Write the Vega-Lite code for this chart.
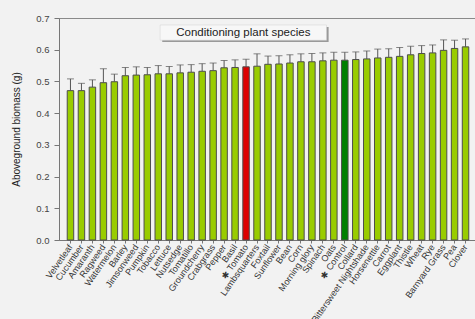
{
  "$schema": "https://vega.github.io/schema/vega-lite/v6.json",
  "autosize": "none",
  "width": 418,
  "height": 222,
  "padding": {"left": 59, "top": 18, "right": 0, "bottom": 79},
  "background": "#f2f2f2",
  "config": {
    "font": "Liberation Sans",
    "view": {"stroke": "#8a8a8a", "strokeWidth": 1, "fill": "#f2f2f2"},
    "axis": {"domainColor": "#777", "tickColor": "#777", "labelColor": "#333", "titleColor": "#222", "grid": false},
    "axisY": {"tickCount": 8, "labelFontSize": 9.5, "labelColor": "#444", "tickSize": 5, "labelPadding": 5, "titleFontSize": 10, "titleFontWeight": "normal", "titlePadding": 14}
  },
  "data": {"values": [
    {"species": "Velvetleaf", "biomass": 0.471, "upper": 0.508, "group": "other"},
    {"species": "Cucumber", "biomass": 0.471, "upper": 0.494, "group": "other"},
    {"species": "Amaranth", "biomass": 0.482, "upper": 0.505, "group": "other"},
    {"species": "Ragweed", "biomass": 0.496, "upper": 0.540, "group": "other"},
    {"species": "Watermelon", "biomass": 0.499, "upper": 0.523, "group": "other"},
    {"species": "Barley", "biomass": 0.518, "upper": 0.544, "group": "other"},
    {"species": "Jimsonweed", "biomass": 0.520, "upper": 0.546, "group": "other"},
    {"species": "Pumpkin", "biomass": 0.521, "upper": 0.544, "group": "other"},
    {"species": "Tobacco", "biomass": 0.524, "upper": 0.550, "group": "other"},
    {"species": "Lettuce", "biomass": 0.524, "upper": 0.547, "group": "other"},
    {"species": "Nutsedge", "biomass": 0.527, "upper": 0.552, "group": "other"},
    {"species": "Tomatillo", "biomass": 0.529, "upper": 0.553, "group": "other"},
    {"species": "Groundcherry", "biomass": 0.532, "upper": 0.556, "group": "other"},
    {"species": "Crabgrass", "biomass": 0.534, "upper": 0.558, "group": "other"},
    {"species": "Pepper", "biomass": 0.543, "upper": 0.566, "group": "other"},
    {"species": "Basil", "biomass": 0.544, "upper": 0.568, "group": "other"},
    {"species": "✱   Tomato", "biomass": 0.546, "upper": 0.570, "group": "tomato"},
    {"species": "Lambsquarters", "biomass": 0.548, "upper": 0.587, "group": "other"},
    {"species": "Foxtail", "biomass": 0.554, "upper": 0.580, "group": "other"},
    {"species": "Sunflower", "biomass": 0.555, "upper": 0.581, "group": "other"},
    {"species": "Bean", "biomass": 0.558, "upper": 0.584, "group": "other"},
    {"species": "Corn", "biomass": 0.562, "upper": 0.587, "group": "other"},
    {"species": "Morning glory", "biomass": 0.562, "upper": 0.588, "group": "other"},
    {"species": "Spinach", "biomass": 0.565, "upper": 0.590, "group": "other"},
    {"species": "Oats", "biomass": 0.567, "upper": 0.592, "group": "other"},
    {"species": "✱   Control", "biomass": 0.567, "upper": 0.592, "group": "control"},
    {"species": "Collard", "biomass": 0.569, "upper": 0.593, "group": "other"},
    {"species": "Bittersweet Nightshade", "biomass": 0.571, "upper": 0.596, "group": "other"},
    {"species": "Horsenettle", "biomass": 0.574, "upper": 0.602, "group": "other"},
    {"species": "Carrot", "biomass": 0.576, "upper": 0.603, "group": "other"},
    {"species": "Eggplant", "biomass": 0.579, "upper": 0.607, "group": "other"},
    {"species": "Thistle", "biomass": 0.584, "upper": 0.611, "group": "other"},
    {"species": "Wheat", "biomass": 0.588, "upper": 0.613, "group": "other"},
    {"species": "Rye", "biomass": 0.590, "upper": 0.615, "group": "other"},
    {"species": "Barnyard Grass", "biomass": 0.598, "upper": 0.631, "group": "other"},
    {"species": "Pea", "biomass": 0.604, "upper": 0.630, "group": "other"},
    {"species": "Clover", "biomass": 0.609, "upper": 0.634, "group": "other"}
  ]},
  "layer": [
    {
      "layer": [
        {
          "mark": {"type": "rule", "color": "#555", "strokeWidth": 1},
          "encoding": {
            "x": {"field": "species", "type": "nominal", "sort": null,
                  "scale": {"paddingInner": 0.41, "paddingOuter": 0.75},
                  "axis": {"title": null, "labelAngle": -55, "labelFontSize": 9, "labelPadding": 2, "tickSize": 3, "labelLimit": 200}},
            "y": {"field": "biomass", "type": "quantitative",
                  "scale": {"domain": [0, 0.7], "nice": false},
                  "axis": {"title": "Aboveground biomass (g)", "values": [0, 0.1, 0.2, 0.3, 0.4, 0.5, 0.6, 0.7], "format": ".1f"}},
            "y2": {"field": "upper"}
          }
        },
        {
          "mark": {"type": "tick", "color": "#555", "thickness": 1, "size": 7, "orient": "horizontal"},
          "encoding": {
            "x": {"field": "species", "type": "nominal", "sort": null},
            "y": {"field": "upper", "type": "quantitative",
                  "axis": {"title": "Aboveground biomass (g)", "values": [0, 0.1, 0.2, 0.3, 0.4, 0.5, 0.6, 0.7], "format": ".1f"}}
          }
        },
        {
          "mark": {"type": "bar", "stroke": "#4d4d4d", "strokeWidth": 1},
          "encoding": {
            "x": {"field": "species", "type": "nominal", "sort": null},
            "y": {"field": "biomass", "type": "quantitative",
                  "axis": {"title": "Aboveground biomass (g)", "values": [0, 0.1, 0.2, 0.3, 0.4, 0.5, 0.6, 0.7], "format": ".1f"}},
            "color": {"field": "group", "type": "nominal", "legend": null,
                      "scale": {"domain": ["other", "tomato", "control"], "range": ["#99cc00", "#dd0000", "#008000"]}}
          }
        }
      ]
    },
    {
      "data": {"values": [{"label": "Conditioning plant species"}]},
      "layer": [
        {
          "mark": {"type": "rect", "fill": "#9a9a9a"},
          "encoding": {
            "x": {"datum": 0.247, "type": "quantitative", "scale": {"domain": [0, 1]}, "axis": null},
            "x2": {"datum": 0.645},
            "y": {"datum": 0.672, "type": "quantitative", "axis": null},
            "y2": {"datum": 0.624}
          }
        },
        {
          "mark": {"type": "rect", "fill": "#f7f7f7", "stroke": "#d0d0d0", "strokeWidth": 0.5},
          "encoding": {
            "x": {"datum": 0.242, "type": "quantitative"},
            "x2": {"datum": 0.640},
            "y": {"datum": 0.678, "type": "quantitative"},
            "y2": {"datum": 0.630}
          }
        },
        {
          "mark": {"type": "text", "fontSize": 11.5, "color": "#222", "align": "center", "baseline": "middle"},
          "encoding": {
            "x": {"datum": 0.441, "type": "quantitative"},
            "y": {"datum": 0.654, "type": "quantitative"},
            "text": {"field": "label"}
          }
        }
      ]
    }
  ],
  "resolve": {"scale": {"x": "independent"}, "axis": {"y": "independent"}}
}
